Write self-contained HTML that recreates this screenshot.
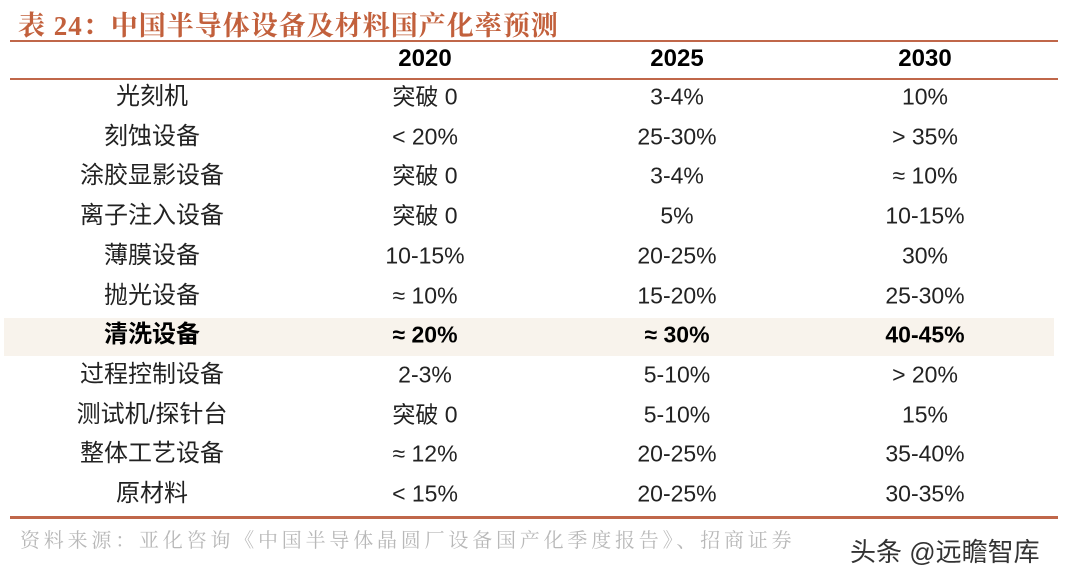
<!DOCTYPE html>
<html><head><meta charset="utf-8"><style>
body{margin:0;width:1066px;height:578px;background:#fff;position:relative;overflow:hidden;font-family:"Liberation Sans","Noto Sans CJK SC",sans-serif;}
.t{position:absolute;white-space:nowrap;transform:translate(-50%,-50%);font-size:23px;color:#222;line-height:1;}
.line{position:absolute;left:10px;width:1048px;background:#c0674a;}
.hl{position:absolute;left:4px;width:1050px;top:318px;height:38px;background:#f8f3ec;}
</style></head><body>
<div style="position:absolute;left:18px;top:4px;font-size:27px;font-weight:bold;color:#c2603c;font-family:'Liberation Serif','Noto Serif CJK SC',serif;letter-spacing:1px">表 24：中国半导体设备及材料国产化率预测</div>
<div class="line" style="top:40px;height:2px"></div>
<div class="line" style="top:78px;height:1.5px"></div>
<div class="hl"></div>
<div class="line" style="top:516px;height:3px"></div>
<div id="tbl"></div>
<div style="position:absolute;left:20px;top:524px;font-size:20px;letter-spacing:3.8px;color:#b8b8b8;font-family:'Liberation Serif','Noto Serif CJK SC',serif">资料来源：亚化咨询《中国半导体晶圆厂设备国产化季度报告》、招商证券</div>
<div style="position:absolute;left:850px;top:532px;font-size:26px;color:#333">头条 @远瞻智库</div>
<script>
const years=["2020","2025","2030"];
const labels=["光刻机","刻蚀设备","涂胶显影设备","离子注入设备","薄膜设备","抛光设备","清洗设备","过程控制设备","测试机/探针台","整体工艺设备","原材料"];
const v2020=["突破 0","< 20%","突破 0","突破 0","10-15%","≈ 10%","≈ 20%","2-3%","突破 0","≈ 12%","< 15%"];
const v2025=["3-4%","25-30%","3-4%","5%","20-25%","15-20%","≈ 30%","5-10%","5-10%","20-25%","20-25%"];
const v2030=["10%","> 35%","≈ 10%","10-15%","30%","25-30%","40-45%","> 20%","15%","35-40%","30-35%"];
const cols=[152,425,677,925];
const root=document.getElementById('tbl');
function add(txt,x,y,bold,name){const d=document.createElement('div');d.className='t';d.textContent=txt;d.style.left=x+'px';d.style.top=y+'px';if(bold){d.style.fontWeight='bold';d.style.color='#000';}


root.appendChild(d);return d;}
years.forEach((y,i)=>{const d=add(y,cols[i+1],59,true,'header-'+y);d.style.fontSize='24px';});
const cols2=[v2020,v2025,v2030];
labels.forEach((l,r)=>{const y=97+r*39.7;const b=r===6;
const lab=add(l,cols[0],y,b,'row-label');lab.style.fontSize='24px';
cols2.forEach((c,i)=>add(c[r],cols[i+1],y,b,'cell-'+years[i]));});
</script>
</body></html>
